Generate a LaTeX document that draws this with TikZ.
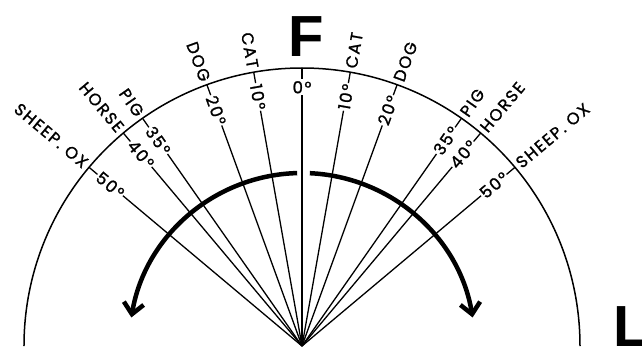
\documentclass[tikz,border=0pt]{standalone}
\usepackage{fontspec}
\usetikzlibrary{arrows.meta}
\newfontfamily\labfont{Poppins}[LetterSpace=10,FakeBold=1.3]
\newfontfamily\bigfont{Liberation Sans}
\begin{document}
\begin{tikzpicture}[x=1pt,y=1pt,
  lab/.style={font=\labfont\fontsize{16.5}{17}\selectfont, inner sep=1.2pt, outer sep=0pt},
  ray/.style={line width=1.3pt},
  rim/.style={line width=1.5pt},
  turn/.style={line width=4.5pt, -{Straight Barb[length=11pt,width=20pt]}},
  bigletter/.style={font=\bigfont\bfseries\fontsize{58}{60}\selectfont, inner sep=0pt, outer sep=0pt}]
\useasboundingbox (-302,0) rectangle (340,346);
\coordinate (O) at (0,0);
% outer arc
\draw[rim] (0:278) arc (0:180:278);
% 0 degree
\node[lab, anchor=north] (C0) at (90:266) {0°};
\draw[ray] (O) -- (C0.south);
\draw[ray] (90:267) -- (90:278);
% sides
\foreach \t/\nm in {10/CAT,20/DOG,35/PIG,40/HORSE,50/SHEEP. OX}{
  % right
  \node[lab, rotate=90-\t, anchor=east] (R\t) at (90-\t:267) {\t°};
  \draw[ray] (O) -- (R\t.west);
  \draw[ray] (90-\t:267) -- (90-\t:278);
  \node[lab, rotate=90-\t, anchor=west] (RW\t) at (90-\t:281) {\nm};
  % left
  \node[lab, rotate=\t-90, anchor=west] (L\t) at (90+\t:267) {\t°};
  \draw[ray] (O) -- (L\t.east);
  \draw[ray] (90+\t:267) -- (90+\t:278);
  \node[lab, rotate=\t-90, anchor=east] (LW\t) at (90+\t:281) {\nm};
}
% turning arrows
\draw[turn] (91.6:173) arc (91.6:170.5:173);
\draw[turn] (87.4:173) arc (87.4:9.5:173);
% letters
\node[bigletter, anchor=base] (F) at (4,289) {F};
\node[bigletter, anchor=base west] (Lt) at (311,0) {L};
\end{tikzpicture}
\end{document}
